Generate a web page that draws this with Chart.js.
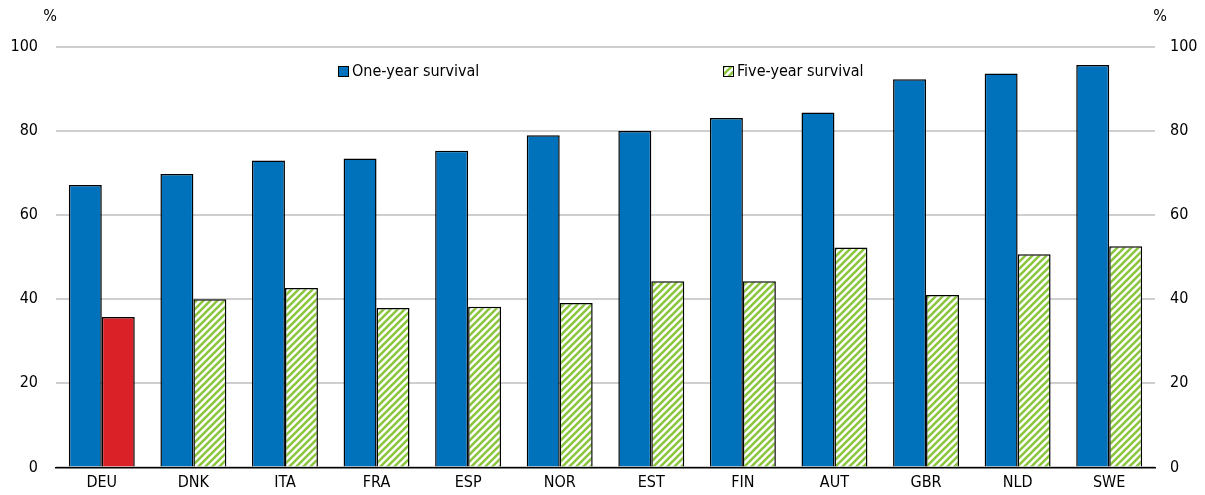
<!DOCTYPE html>
<html>
<head>
<meta charset="utf-8">
<script src="https://cdn.jsdelivr.net/npm/chart.js@4/dist/chart.umd.min.js"></script>
<style>
  html, body { margin: 0; padding: 0; background: #fff; }
  #wrap { width: 1205px; height: 495px; position: relative; }
</style>
</head>
<body>
<div id="wrap"><canvas id="chart" width="1205" height="495"></canvas></div>
<script>
const countries = ['DEU', 'DNK', 'ITA', 'FRA', 'ESP', 'NOR', 'EST', 'FIN', 'AUT', 'GBR', 'NLD', 'SWE'];
const oneYear = [67.2, 69.8, 73.0, 73.5, 75.3, 79.0, 80.0, 83.1, 84.4, 92.3, 93.7, 95.7];
const fiveYear = [35.8, 40.0, 42.7, 37.9, 38.2, 39.1, 44.3, 44.3, 52.3, 41.0, 50.7, 52.6];
const yTicks = [0, 20, 40, 60, 80, 100];

const FONT = '"Liberation Sans Narrow", "DejaVu Sans Condensed", "Liberation Sans", sans-serif';
const BLUE = '#0072BC';
const RED = '#DA2128';
const GREEN = '#8CC63F';

function makeHatch() {
    const n = 7;
    const c = document.createElement('canvas');
    c.width = n; c.height = n;
    const g = c.getContext('2d');
    g.fillStyle = '#fff';
    g.fillRect(0, 0, n, n);
    g.strokeStyle = GREEN;
    g.lineWidth = 2.6;
    g.beginPath();
    for (let k = -n; k <= 2 * n; k += n) {
        g.moveTo(k - n - 1, n + 1);
        g.lineTo(k + 1, -1);
    }
    g.moveTo(-1, n + 1); g.lineTo(n + 1, -1);
    g.stroke();
    return g.createPattern(c, 'repeat');
}

const ctx = document.getElementById('chart').getContext('2d');
const hatch = makeHatch();

// legend + "%" labels drawn by hand, the Excel-style legend sits inside the plot
const extras = {
    id: 'extras',
    afterDraw(chart) {
        const c = chart.ctx;
        c.save();
        c.font = '16px ' + FONT;
        c.fillStyle = '#000';
        c.textBaseline = 'middle';
        c.textAlign = 'center';
        c.fillText('%', 50, 17);
        c.fillText('%', 1160, 17);

        const items = [
            { x: 338, label: 'One-year survival', fill: BLUE },
            { x: 723, label: 'Five-year survival', fill: hatch }
        ];
        c.textAlign = 'left';
        items.forEach(it => {
            c.fillStyle = it.fill;
            c.fillRect(it.x, 66, 11, 11);
            c.strokeStyle = '#000';
            c.lineWidth = 1;
            c.strokeRect(it.x + 0.5, 66.5, 10, 10);
            c.fillStyle = '#000';
            c.fillText(it.label, it.x + 14, 72);
        });
        c.restore();
    }
};

new Chart(ctx, {
    type: 'bar',
    data: {
        labels: countries,
        datasets: [
            {
                label: 'One-year survival',
                data: oneYear,
                backgroundColor: BLUE,
                borderColor: '#000',
                borderWidth: 1.5,
                borderSkipped: 'bottom',
                yAxisID: 'y'
            },
            {
                label: 'Five-year survival',
                data: fiveYear,
                backgroundColor: countries.map(c => c === 'DEU' ? RED : hatch),
                borderColor: '#000',
                borderWidth: 1.5,
                borderSkipped: 'bottom',
                yAxisID: 'y'
            }
        ]
    },
    options: {
        responsive: false,
        animation: false,
        layout: { padding: { top: 47, left: 0, right: 0, bottom: 0 } },
        datasets: { bar: { barPercentage: 1, categoryPercentage: 0.72 } },
        plugins: { legend: { display: false }, tooltip: { enabled: false } },
        scales: {
            x: {
                grid: { display: false, drawTicks: false },
                border: { color: '#000', width: 1.5 },
                ticks: { color: '#000', font: { family: FONT, size: 16 }, padding: 6 },
                afterFit(s) { s.height = 26; }
            },
            y: {
                position: 'left',
                min: 0, max: 100,
                afterBuildTicks(s) { s.ticks = yTicks.map(v => ({ value: v })); },
                grid: { color: '#cfcfcf', lineWidth: 2, drawTicks: false },
                border: { display: false },
                ticks: { color: '#000', font: { family: FONT, size: 16 }, padding: 18 },
                afterFit(s) { s.width = 56; }
            },
            y2: {
                position: 'right',
                min: 0, max: 100,
                afterBuildTicks(s) { s.ticks = yTicks.map(v => ({ value: v })); },
                grid: { display: false, drawTicks: false },
                border: { display: false },
                ticks: { color: '#000', font: { family: FONT, size: 16 }, padding: 15 },
                afterFit(s) { s.width = 50; }
            }
        }
    },
    plugins: [extras]
});
</script>
</body>
</html>
